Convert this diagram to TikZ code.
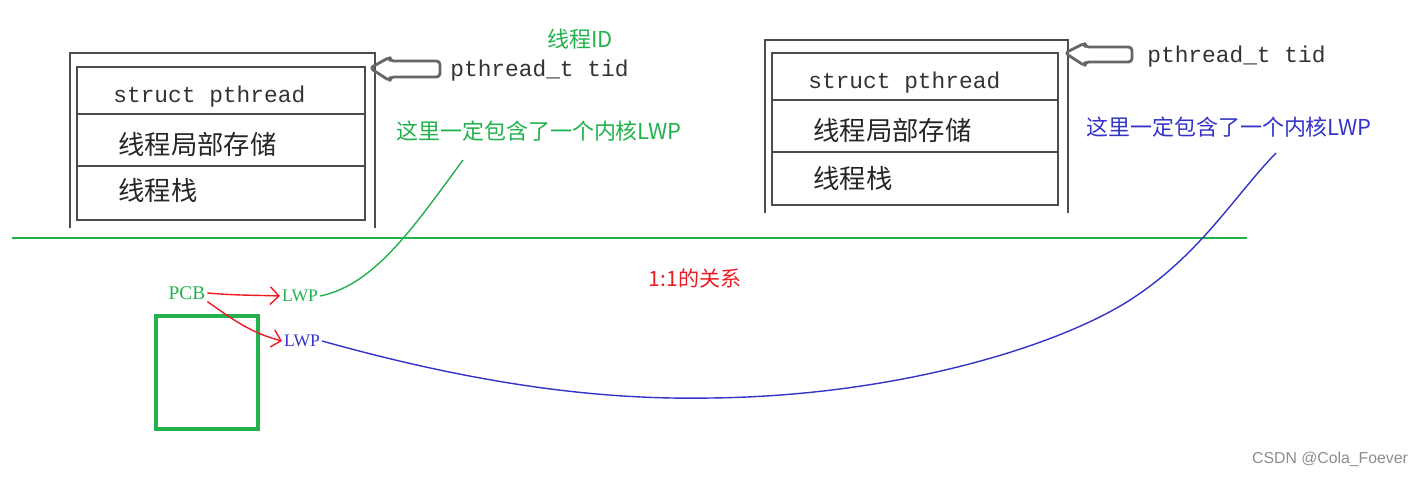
\documentclass[tikz,border=0pt]{standalone}
\usepackage{fontspec}
\usetikzlibrary{arrows.meta}
\setmainfont{Liberation Serif}
\setmonofont{Liberation Mono}
\newfontfamily\cjk{Noto Sans CJK SC}
\newfontfamily\wmfont{Liberation Sans}
\definecolor{notegreen}{RGB}{34,177,76}
\definecolor{noteblue}{RGB}{52,52,200}
\definecolor{notered}{RGB}{237,28,36}
\begin{document}
\begin{tikzpicture}[x=0.02cm,y=-0.02cm,>={Straight Barb[length=5pt,width=10pt]},
  box line/.style={draw=black!70,line width=1.5pt},
  ptr arrow/.style={draw=black!60,line width=1.6pt,rounded corners=2pt,line join=round},
  mono text/.style={font=\ttfamily\fontsize{13}{15}\selectfont,text=black!80,anchor=west,inner sep=0},
  row text/.style={font=\cjk\fontsize{15}{18}\selectfont,text=black!85,anchor=west,inner sep=0},
  note/.style={font=\cjk\fontsize{12.5}{15}\selectfont,inner sep=0},
  lwp/.style={font=\fontsize{10}{12}\selectfont,inner sep=1pt}]
  \useasboundingbox (0,0) rectangle (1423,477);

  % left struct pthread
  \draw[box line] (70,228) -- (70,53) -- (375,53) -- (375,228);
  \draw[box line] (77,67) rectangle (365,220);
  \draw[box line] (77,114) -- (365,114) (77,166) -- (365,166);
  \node[mono text] (sa) at (113,97) {struct pthread};
  \node[row text] (ta) at (118,144) {线程局部存储};
  \node[row text] (ka) at (118,190) {线程栈};
  \draw[ptr arrow] (370,68) -- (390,57) -- (390,61) -- (440,61) -- (440,77) -- (390,77) -- (390,81) -- cycle;
  \node[mono text] (tida) at (450,71) {pthread\_t tid};
  \node[note,text=notegreen] (ida) at (580,39) {线程ID};
  \node[note,text=notegreen] (na) at (539,131) {这里一定包含了一个内核LWP};

  % right struct pthread
  \draw[box line] (765,213) -- (765,40) -- (1068,40) -- (1068,213);
  \draw[box line] (772,53) rectangle (1058,205);
  \draw[box line] (772,100) -- (1058,100) (772,152) -- (1058,152);
  \node[mono text] (sb) at (808,83) {struct pthread};
  \node[row text] (tb) at (813,130) {线程局部存储};
  \node[row text] (kb) at (813,178) {线程栈};
  \draw[ptr arrow] (1065,53) -- (1085,43) -- (1085,47) -- (1132,47) -- (1132,62) -- (1085,62) -- (1085,66) -- cycle;
  \node[mono text] (tidb) at (1147,57) {pthread\_t tid};
  \node[note,text=noteblue] (nb) at (1229,127) {这里一定包含了一个内核LWP};

  % user / kernel
  \draw[notegreen,line width=1.2pt] (12,238) -- (1247,238);
  \node[note,font=\cjk\fontsize{12}{14}\selectfont,text=notered] (rel) at (695,278) {1:1的关系};

  \node[lwp,font=\fontsize{11}{13}\selectfont,text=notegreen] (pcb) at (187,293) {PCB};
  \node[lwp,text=notegreen] (lwpa) at (300,296) {LWP};
  \node[lwp,text=noteblue] (lwpb) at (302,341) {LWP};
  \draw[notegreen,line width=2pt] (156,316) rectangle (258,429);

  \path[->,notered,thick]
    (pcb.east) edge [out=-5,in=178] (lwpa.west)
    (pcb.south east) edge [out=-35,in=165] (lwpb.west);

  \coordinate (ga) at (463,160);
  \coordinate (gb) at (1276,153);
  \draw[notegreen,thick] (lwpa.east) .. controls (375,285) and (415,225) .. (ga);
  \draw[noteblue,thick] (lwpb.east) .. controls (480,385) and (600,400) .. (710,398)
    .. controls (900,396) and (1060,345) .. (1130,300)
    .. controls (1200,255) and (1235,195) .. (gb);

  \node[font=\wmfont\fontsize{9}{11}\selectfont,text=black!45] (wm) at (1330,459) {CSDN @Cola\_Foever};
\end{tikzpicture}
\end{document}
